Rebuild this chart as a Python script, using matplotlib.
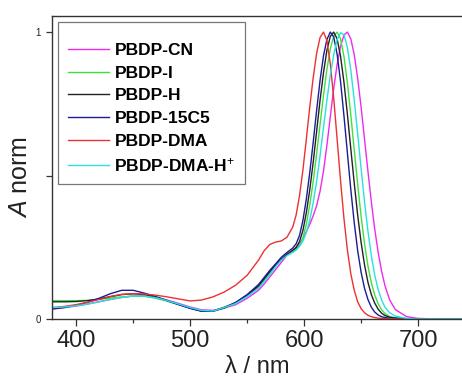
import matplotlib
matplotlib.use("Agg")
import matplotlib.pyplot as plt
from matplotlib.ticker import FixedLocator, NullFormatter

plt.rcParams['font.family'] = ['Liberation Sans', 'DejaVu Sans']
plt.rcParams['mathtext.fontset'] = 'custom'
plt.rcParams['mathtext.rm'] = 'Liberation Sans'
plt.rcParams['mathtext.it'] = 'Liberation Sans:italic'
plt.rcParams['mathtext.bf'] = 'Liberation Sans:bold'

wavelength = [380, 390, 400, 410, 420, 430, 440, 450, 460, 470, 480, 490, 500, 510, 520,
              530, 540, 550, 560, 565, 570, 575, 580, 585, 590, 593, 596, 599, 602, 605,
              608, 611, 614, 617, 620, 623, 626, 629, 632, 635, 638, 641, 644, 647, 650,
              653, 656, 659, 662, 665, 668, 671, 675, 680, 690, 700, 720, 740]

a_cn = [0.036, 0.040, 0.045, 0.052, 0.060, 0.068, 0.075, 0.080, 0.081, 0.076, 0.066, 0.054, 0.042, 0.032, 0.030,
        0.038, 0.050, 0.072, 0.100, 0.122, 0.147, 0.172, 0.197, 0.222, 0.240, 0.250, 0.262, 0.280, 0.305, 0.330,
        0.360, 0.395, 0.445, 0.515, 0.605, 0.705, 0.804, 0.888, 0.951, 0.990, 1.000, 0.976, 0.921, 0.839, 0.739,
        0.627, 0.515, 0.408, 0.312, 0.232, 0.166, 0.115, 0.067, 0.033, 0.008, 0.002, 0.0, 0.0]

a_i = [0.064, 0.064, 0.064, 0.065, 0.068, 0.073, 0.077, 0.080, 0.079, 0.072, 0.062, 0.050, 0.038, 0.028, 0.027,
       0.040, 0.055, 0.080, 0.110, 0.135, 0.160, 0.186, 0.207, 0.224, 0.235, 0.244, 0.256, 0.284, 0.331, 0.398,
       0.480, 0.576, 0.678, 0.779, 0.870, 0.941, 0.986, 1.000, 0.976, 0.914, 0.822, 0.710, 0.589, 0.469, 0.358,
       0.263, 0.185, 0.126, 0.083, 0.053, 0.032, 0.019, 0.009, 0.004, 0.001, 0.0, 0.0, 0.0]

a_h = [0.060, 0.060, 0.061, 0.064, 0.070, 0.078, 0.085, 0.088, 0.085, 0.076, 0.064, 0.051, 0.038, 0.028, 0.028,
       0.041, 0.057, 0.082, 0.115, 0.140, 0.165, 0.189, 0.208, 0.226, 0.239, 0.249, 0.270, 0.309, 0.371, 0.451,
       0.547, 0.654, 0.762, 0.858, 0.936, 0.985, 1.000, 0.976, 0.915, 0.824, 0.713, 0.592, 0.473, 0.362, 0.267,
       0.189, 0.128, 0.085, 0.055, 0.034, 0.020, 0.012, 0.006, 0.003, 0.001, 0.0, 0.0, 0.0]

a_15c5 = [0.035, 0.040, 0.048, 0.058, 0.072, 0.088, 0.100, 0.100, 0.090, 0.078, 0.064, 0.050, 0.037, 0.027, 0.027,
          0.038, 0.058, 0.085, 0.120, 0.145, 0.170, 0.192, 0.215, 0.232, 0.247, 0.262, 0.291, 0.344, 0.419, 0.511,
          0.616, 0.727, 0.831, 0.917, 0.974, 1.000, 0.983, 0.922, 0.827, 0.707, 0.578, 0.450, 0.335, 0.238, 0.163,
          0.107, 0.068, 0.041, 0.024, 0.014, 0.008, 0.005, 0.003, 0.002, 0.001, 0.0, 0.0, 0.0]

a_dma = [0.040, 0.044, 0.050, 0.058, 0.068, 0.078, 0.086, 0.088, 0.087, 0.083, 0.077, 0.070, 0.063, 0.066, 0.077,
         0.094, 0.118, 0.152, 0.205, 0.238, 0.260, 0.268, 0.272, 0.285, 0.320, 0.362, 0.430, 0.520, 0.628, 0.740,
         0.841, 0.926, 0.981, 1.000, 0.971, 0.889, 0.769, 0.626, 0.481, 0.349, 0.240, 0.157, 0.100, 0.060, 0.036,
         0.022, 0.013, 0.008, 0.005, 0.003, 0.002, 0.001, 0.001, 0.0, 0.0, 0.0, 0.0, 0.0]

a_dmah = [0.040, 0.042, 0.046, 0.052, 0.060, 0.068, 0.075, 0.080, 0.080, 0.074, 0.064, 0.052, 0.040, 0.030, 0.028,
          0.040, 0.054, 0.078, 0.107, 0.130, 0.155, 0.182, 0.205, 0.221, 0.232, 0.240, 0.253, 0.272, 0.302, 0.345,
          0.405, 0.480, 0.569, 0.666, 0.762, 0.850, 0.922, 0.974, 0.998, 0.991, 0.946, 0.867, 0.763, 0.645, 0.524,
          0.409, 0.306, 0.220, 0.152, 0.102, 0.066, 0.041, 0.022, 0.010, 0.002, 0.0, 0.0, 0.0]

labels = ['PBDP-CN', 'PBDP-I', 'PBDP-H', 'PBDP-15C5', 'PBDP-DMA', 'PBDP-DMA-H$^{+}$']
colors = ['#ee2aee', '#3ee03e', '#222222', '#1c1c96', '#ee3030', '#2ae0e0']
series = [a_cn, a_i, a_h, a_15c5, a_dma, a_dmah]

x_major = [400, 500, 600, 700]
x_minor = [450, 550, 650]
y_major = [0, 1]
y_minor = [0.5]

fig = plt.figure(figsize=(4.62, 3.77), dpi=100)
ax = fig.add_axes([52/462, 58/377, 1 - 52/462, 303/377])

for y, lab, c in zip(series, labels, colors):
    ax.plot(wavelength, y, color=c, lw=1.0, label=lab)

ax.set_xlim(378.9, 738.5)
ax.set_ylim(0, 1.056)

ax.xaxis.set_major_locator(FixedLocator(x_major))
ax.xaxis.set_minor_locator(FixedLocator(x_minor))
ax.yaxis.set_major_locator(FixedLocator(y_major))
ax.yaxis.set_minor_locator(FixedLocator(y_minor))
ax.xaxis.set_minor_formatter(NullFormatter())
ax.yaxis.set_minor_formatter(NullFormatter())

ax.tick_params(axis='x', which='major', direction='out', length=5, width=0.9,
               labelsize=17, pad=3, colors='#333333', labelcolor='#222222')
ax.tick_params(axis='x', which='minor', direction='out', length=3, width=0.9, colors='#333333')
ax.tick_params(axis='y', which='major', direction='out', length=4, width=0.9,
               labelsize=7, pad=4, colors='#333333', labelcolor='#222222')
ax.tick_params(axis='y', which='minor', direction='out', length=4, width=0.9, colors='#333333')
ax.tick_params(top=False, right=False)

for s in ['left', 'bottom', 'top']:
    ax.spines[s].set_color('#333333')
    ax.spines[s].set_linewidth(1.0)
ax.spines['right'].set_visible(False)

ax.set_xlabel('λ / nm', fontsize=17, labelpad=3, color='#222222')
ax.set_ylabel('$\\mathit{A}$ norm', fontsize=18, color='#222222')
ax.yaxis.set_label_coords(-0.048, 0.47)

leg = ax.legend(loc='upper left', bbox_to_anchor=(6/410, (319-22)/303), borderaxespad=0,
                fancybox=False, frameon=True, edgecolor='#777777', framealpha=1,
                prop={'weight': 'bold', 'size': 12.5}, handlelength=2.4,
                handletextpad=0.3, labelspacing=0.43, borderpad=0.55,
                title=' ', title_fontsize=2)
leg.get_frame().set_linewidth(0.9)

fig.savefig('out.png', dpi=100)
